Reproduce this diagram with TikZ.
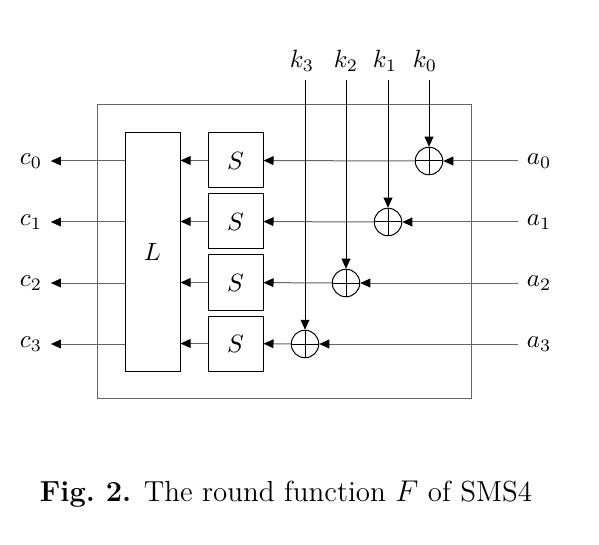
\documentclass[tikz,border=0pt]{standalone}
\usetikzlibrary{arrows.meta}
\definecolor{linegray}{gray}{0.4}
\tikzstyle{node_box} = [draw, inner sep=0pt, minimum width=22pt, minimum height=22pt]
\tikzstyle{node_xor} = [circle, draw, inner sep=0pt, minimum size=11pt,
  path picture={\draw (path picture bounding box.north) -- (path picture bounding box.south)
    (path picture bounding box.west) -- (path picture bounding box.east);}]
\tikzstyle{edge_data} = [draw=linegray, -{Triangle[length=4pt,width=3.5pt,color=black]}]
\tikzstyle{edge_key} = [-{Triangle[length=4pt,width=3.5pt]}]

\begin{document}
\begin{tikzpicture}[x=0.4pt, y=-0.4pt]
\useasboundingbox (0,0) rectangle (599,545);
\draw[linegray] (97,105) rectangle (471,398);

\node (L) at (152.5,252) [node_box, minimum height=95.2pt] {$L$};
\node (S0) at (235.5,160.5) [node_box] {$S$};
\node (S1) at (235.5,221.5) [node_box] {$S$};
\node (S2) at (235.5,282.5) [node_box] {$S$};
\node (S3) at (235.5,343.5) [node_box] {$S$};

\node (X0) at (429,161) [node_xor] {};
\node (X1) at (388,222) [node_xor] {};
\node (X2) at (346,283) [node_xor] {};
\node (X3) at (305,344) [node_xor] {};

\node (a0) at (539,161) {$a_0$};
\node (a1) at (539,222) {$a_1$};
\node (a2) at (539,283) {$a_2$};
\node (a3) at (539,344) {$a_3$};

\node (c0) at (31,161) {$c_0$};
\node (c1) at (31,222) {$c_1$};
\node (c2) at (31,283) {$c_2$};
\node (c3) at (31,344) {$c_3$};

\node (k3) at (302,61) {$k_3$};
\node (k2) at (346,61) {$k_2$};
\node (k1) at (385,61) {$k_1$};
\node (k0) at (425,61) {$k_0$};

\draw[edge_data] (a0) -- (X0);
\draw[edge_data] (a1) -- (X1);
\draw[edge_data] (a2) -- (X2);
\draw[edge_data] (a3) -- (X3);
\draw[edge_data] (X0) -- (S0);
\draw[edge_data] (X1) -- (S1);
\draw[edge_data] (X2) -- (S2);
\draw[edge_data] (X3) -- (S3);
\draw[edge_data] (S0) -- (L.east |- S0.west);
\draw[edge_data] (S1) -- (L.east |- S1.west);
\draw[edge_data] (S2) -- (L.east |- S2.west);
\draw[edge_data] (S3) -- (L.east |- S3.west);
\draw[edge_data] (L.west |- c0) -- (c0);
\draw[edge_data] (L.west |- c1) -- (c1);
\draw[edge_data] (L.west |- c2) -- (c2);
\draw[edge_data] (L.west |- c3) -- (c3);

\draw[edge_key] (X0 |- k0.south) -- (X0);
\draw[edge_key] (X1 |- k1.south) -- (X1);
\draw[edge_key] (X2 |- k2.south) -- (X2);
\draw[edge_key] (X3 |- k3.south) -- (X3);

\node (caption) at (286,494) {\fontsize{11.6}{14}\selectfont\textbf{Fig.\ 2.} The round function $F$ of SMS4};
\end{tikzpicture}
\end{document}
